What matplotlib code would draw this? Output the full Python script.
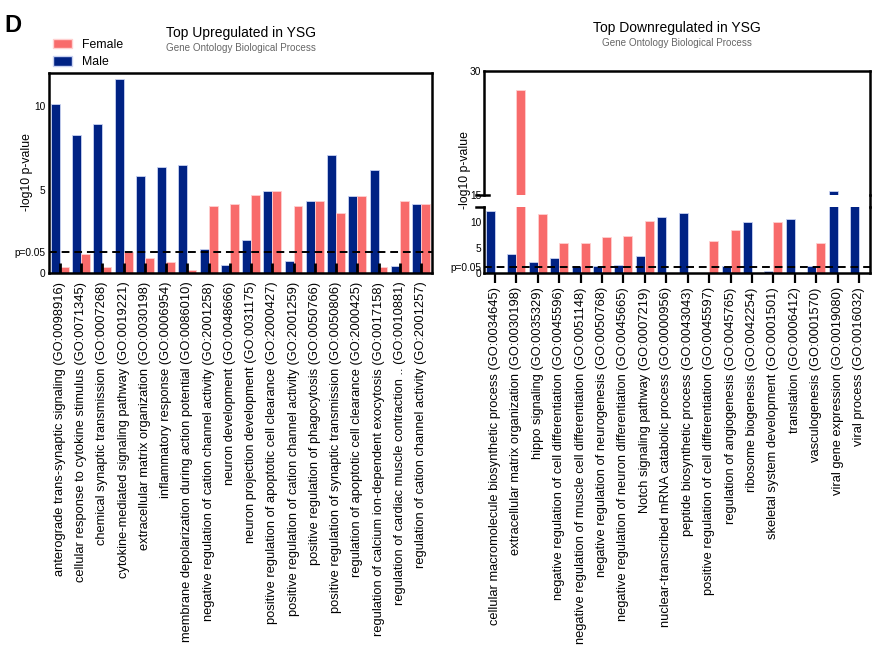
import numpy as np
import matplotlib
matplotlib.use("Agg")
import matplotlib.pyplot as plt
from matplotlib.patches import Patch
from matplotlib.lines import Line2D

plt.rcParams['font.family'] = ['Liberation Sans', 'DejaVu Sans']

# Datos: panel izquierdo (sobre-regulados)
up_terms = [
    "anterograde trans-synaptic signaling (GO:0098916)",
    "cellular response to cytokine stimulus (GO:0071345)",
    "chemical synaptic transmission (GO:0007268)",
    "cytokine-mediated signaling pathway (GO:0019221)",
    "extracellular matrix organization (GO:0030198)",
    "inflammatory response (GO:0006954)",
    "membrane depolarization during action potential (GO:0086010)",
    "negative regulation of cation channel activity (GO:2001258)",
    "neuron development (GO:0048666)",
    "neuron projection development (GO:0031175)",
    "positive regulation of apoptotic cell clearance (GO:2000427)",
    "positive regulation of cation channel activity (GO:2001259)",
    "positive regulation of phagocytosis (GO:0050766)",
    "positive regulation of synaptic transmission (GO:0050806)",
    "regulation of apoptotic cell clearance (GO:2000425)",
    "regulation of calcium ion-dependent exocytosis (GO:0017158)",
    "regulation of cardiac muscle contraction .. (GO:0010881)",
    "regulation of cation channel activity (GO:2001257)",
]
up_male = [10.1, 8.3, 8.95, 11.6, 5.85, 6.35, 6.5, 1.45, 0.5, 2.0, 4.9, 0.75,
           4.35, 7.05, 4.6, 6.2, 0.45, 4.15]
up_female = [0.4, 1.15, 0.35, 1.3, 0.9, 0.7, 0.2, 4.05, 4.15, 4.7, 4.9, 4.05,
             4.35, 3.6, 4.6, 0.4, 4.3, 4.15]

# Datos: panel derecho (sub-regulados)
down_terms = [
    "cellular macromolecule biosynthetic process (GO:0034645)",
    "extracellular matrix organization (GO:0030198)",
    "hippo signaling (GO:0035329)",
    "negative regulation of cell differentiation (GO:0045596)",
    "negative regulation of muscle cell differentiation (GO:0051148)",
    "negative regulation of neurogenesis (GO:0050768)",
    "negative regulation of neuron differentiation (GO:0045665)",
    "Notch signaling pathway (GO:0007219)",
    "nuclear-transcribed mRNA catabolic process (GO:0000956)",
    "peptide biosynthetic process (GO:0043043)",
    "positive regulation of cell differentiation (GO:0045597)",
    "regulation of angiogenesis (GO:0045765)",
    "ribosome biogenesis (GO:0042254)",
    "skeletal system development (GO:0001501)",
    "translation (GO:0006412)",
    "vasculogenesis (GO:0001570)",
    "viral gene expression (GO:0019080)",
    "viral process (GO:0016032)",
]
down_male = [12.1, 3.7, 2.2, 2.9, 1.4, 1.35, 1.7, 3.4, 10.9, 11.8, 0.0, 1.5,
             10.0, 0.5, 10.5, 1.4, 15.5, 14.0]
down_female = [0.0, 27.7, 11.5, 5.9, 6.0, 7.1, 7.2, 10.25, 0.0, 0.0, 6.3, 8.45,
               0.0, 10.0, 0.0, 6.0, 0.0, 0.0]

p_line = -np.log10(0.05)
c_male = '#002284'
c_female = '#F86B6B'
w = 0.42
fs_lab = 9.3
fs_tick = 7.3

fig = plt.figure(figsize=(8.85, 6.65), dpi=100)

# ---------- Panel izquierdo ----------
ax1 = fig.add_axes([0.0557, 0.589, 0.432, 0.3017])
x = np.arange(len(up_terms))
ax1.bar(x - w / 2, up_male, w, color=c_male, edgecolor='#c9d2f2', linewidth=0.6)
ax1.bar(x + w / 2, up_female, w, color=c_female, edgecolor='#ffd0d0', linewidth=0.6)
ax1.axhline(p_line, color='k', ls=(0, (4, 2.5)), lw=1.4)
ax1.set_xlim(-0.5, len(up_terms) - 0.5)
ax1.set_ylim(0, 12)
ax1.set_yticks([0, p_line, 5, 10])
ax1.set_yticklabels(['0', 'p=0.05', '5', '10'], fontsize=fs_tick)
ax1.tick_params(axis='y', length=0, pad=3)
ax1.set_xticks(x)
ax1.set_xticklabels(up_terms, rotation=90, fontsize=fs_lab)
ax1.tick_params(axis='x', direction='in', length=7, width=2, pad=6)
for s in ax1.spines.values():
    s.set_linewidth(1.8)

fig.text(0.272, 1 - 33 / 665, "Top Upregulated in YSG", ha='center', va='center', fontsize=10)
fig.text(0.272, 1 - 48 / 665, "Gene Ontology Biological Process", ha='center', va='center',
         fontsize=7.1, color='#666666')
fig.text(27 / 885, 1 - 172 / 665, "-log10 p-value", rotation=90, ha='center', va='center', fontsize=8.8)

# ---------- Panel derecho (eje cortado) ----------
left2, width2 = 0.547, 0.4358
ax_lo = fig.add_axes([left2, 0.589, width2, 0.1002])
ax_hi = fig.add_axes([left2, 0.7063, width2, 0.187])
x2 = np.arange(len(down_terms))
for ax in (ax_lo, ax_hi):
    ax.bar(x2 - w / 2, down_male, w, color=c_male, edgecolor='#c9d2f2', linewidth=0.6)
    ax.bar(x2 + w / 2, down_female, w, color=c_female, edgecolor='#ffd0d0', linewidth=0.6)
    ax.set_xlim(-0.5, len(down_terms) - 0.5)
    for s in ax.spines.values():
        s.set_linewidth(1.8)

ax_lo.axhline(p_line, color='k', ls=(0, (4, 2.5)), lw=1.4)
ax_lo.set_ylim(0, 13)
ax_lo.set_yticks([0, p_line, 5, 10])
ax_lo.set_yticklabels(['0', 'p=0.05', '5', '10'], fontsize=fs_tick)
ax_lo.tick_params(axis='y', length=0, pad=2)
ax_lo.spines['top'].set_visible(False)
ax_lo.set_xticks(x2)
ax_lo.set_xticklabels(down_terms, rotation=90, fontsize=fs_lab)
ax_lo.tick_params(axis='x', direction='out', length=7, width=1.6, pad=3)

ax_hi.set_ylim(15, 30)
ax_hi.set_yticks([15, 30])
ax_hi.set_yticklabels(['15', '30'], fontsize=fs_tick)
ax_hi.tick_params(axis='y', length=0, pad=2)
ax_hi.spines['bottom'].set_visible(False)
ax_hi.set_xticks([])

# marcas del corte en el eje izquierdo
ax_hi.plot([-0.02, 0.012], [0, 0], transform=ax_hi.transAxes, color='k', lw=1.8, clip_on=False)
ax_lo.plot([-0.02, 0.0], [1, 1], transform=ax_lo.transAxes, color='k', lw=1.8, clip_on=False)
# unir el borde derecho a traves del corte
p_lo = ax_lo.get_position()
p_hi = ax_hi.get_position()
fig.add_artist(Line2D([p_lo.x1, p_lo.x1], [p_lo.y1, p_hi.y0], transform=fig.transFigure,
                      color='k', lw=1.8))

fig.text(677 / 885, 1 - 28 / 665, "Top Downregulated in YSG", ha='center', va='center', fontsize=10)
fig.text(677 / 885, 1 - 43 / 665, "Gene Ontology Biological Process", ha='center', va='center',
         fontsize=7.1, color='#666666')
fig.text(465 / 885, 1 - 170 / 665, "-log10 p-value", rotation=90, ha='center', va='center', fontsize=8.8)

# Leyenda y letra del panel
handles = [Patch(facecolor=c_female, edgecolor='#ffd0d0', label='Female'),
           Patch(facecolor=c_male, edgecolor='#c9d2f2', label='Male')]
fig.legend(handles=handles, loc='upper left', bbox_to_anchor=(48 / 885, 1 - 34 / 665),
           frameon=False, fontsize=8.8, handlelength=1.6, handleheight=0.8,
           handletextpad=0.8, labelspacing=0.45, borderaxespad=0)
fig.text(4 / 885, 1 - 25 / 665, "D", fontsize=17, fontweight='bold', ha='left', va='center')

fig.savefig("out.png", dpi=100)
